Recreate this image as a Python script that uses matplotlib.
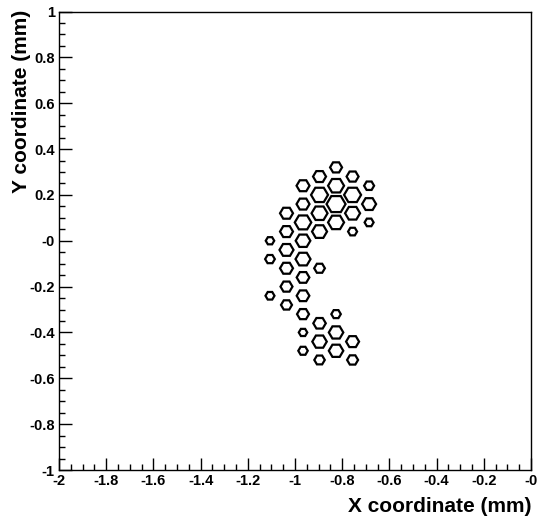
import numpy as np
import matplotlib.pyplot as plt
from matplotlib.patches import RegularPolygon
from matplotlib.ticker import MultipleLocator

plt.rcParams['font.family'] = ['Liberation Sans', 'DejaVu Sans']

# hexagon centres (mm) and circumradius (mm), read row by row from the top
hex_x = [-0.826,
         -0.896, -0.756,
         -0.966, -0.826, -0.686,
         -0.896, -0.756,
         -0.966, -0.826, -0.686,
         -1.036, -0.896, -0.756,
         -0.966, -0.826, -0.686,
         -1.036, -0.896, -0.756,
         -1.106, -0.966,
         -1.036,
         -1.106, -0.966,
         -1.036, -0.896,
         -0.966,
         -1.036,
         -1.106, -0.966,
         -1.036,
         -0.966, -0.826,
         -0.896,
         -0.966, -0.826,
         -0.896, -0.756,
         -0.966, -0.826,
         -0.896, -0.756]
hex_y = [0.32,
         0.28, 0.28,
         0.24, 0.24, 0.24,
         0.20, 0.20,
         0.16, 0.16, 0.16,
         0.12, 0.12, 0.12,
         0.08, 0.08, 0.08,
         0.04, 0.04, 0.04,
         0.00, 0.00,
         -0.04,
         -0.08, -0.08,
         -0.12, -0.12,
         -0.16,
         -0.20,
         -0.24, -0.24,
         -0.28,
         -0.32, -0.32,
         -0.36,
         -0.40, -0.40,
         -0.44, -0.44,
         -0.48, -0.48,
         -0.52, -0.52]
hex_r = [0.0254,
         0.0275, 0.0254,
         0.0275, 0.0339, 0.0212,
         0.0360, 0.0360,
         0.0275, 0.0403, 0.0297,
         0.0275, 0.0339, 0.0318,
         0.0350, 0.0339, 0.0191,
         0.0275, 0.0318, 0.0191,
         0.0180, 0.0311,
         0.0297,
         0.0206, 0.0318,
         0.0275, 0.0227,
         0.0269,
         0.0254,
         0.0191, 0.0269,
         0.0233,
         0.0254, 0.0201,
         0.0265,
         0.0180, 0.0307,
         0.0307, 0.0275,
         0.0201, 0.0307,
         0.0222, 0.0233]

x_ticks = [-2, -1.8, -1.6, -1.4, -1.2, -1, -0.8, -0.6, -0.4, -0.2, 0]
x_tick_labels = ['-2', '-1.8', '-1.6', '-1.4', '-1.2', '-1', '-0.8', '-0.6', '-0.4', '-0.2', '-0']
y_ticks = [-1, -0.8, -0.6, -0.4, -0.2, 0, 0.2, 0.4, 0.6, 0.8, 1]
y_tick_labels = ['-1', '-0.8', '-0.6', '-0.4', '-0.2', '-0', '0.2', '0.4', '0.6', '0.8', '1']

fig = plt.figure(figsize=(5.39, 5.19), dpi=100)
ax = fig.add_axes([59 / 539, 1 - 470 / 519, 472 / 539, 458.5 / 519])

for x, y, r in zip(hex_x, hex_y, hex_r):
    # flat-topped hexagon
    ax.add_patch(RegularPolygon((x, y), 6, radius=r, orientation=np.pi / 6,
                                fill=False, edgecolor='black', linewidth=1.6))

ax.set_xlim(-2, 0)
ax.set_ylim(-1, 1)

ax.set_xticks(x_ticks)
ax.set_xticklabels(x_tick_labels, fontsize=10.5, fontweight='bold')
ax.set_yticks(y_ticks)
ax.set_yticklabels(y_tick_labels, fontsize=10.5, fontweight='bold')
ax.xaxis.set_minor_locator(MultipleLocator(0.05))
ax.yaxis.set_minor_locator(MultipleLocator(0.05))
ax.tick_params(which='major', direction='in', length=9, width=1, pad=3)
ax.tick_params(which='minor', direction='in', length=4.5, width=1)
ax.tick_params(top=False, right=False, which='both')
for s in ax.spines.values():
    s.set_linewidth(1)

fig.text(531 / 539, 1 - 507 / 519, 'X coordinate (mm)', ha='right', va='center',
         fontsize=15, fontweight='bold')
fig.text(22 / 539, 1 - 10 / 519, 'Y coordinate (mm)', ha='center', va='top',
         rotation=90, fontsize=15, fontweight='bold')

fig.savefig('out.png', dpi=100)
